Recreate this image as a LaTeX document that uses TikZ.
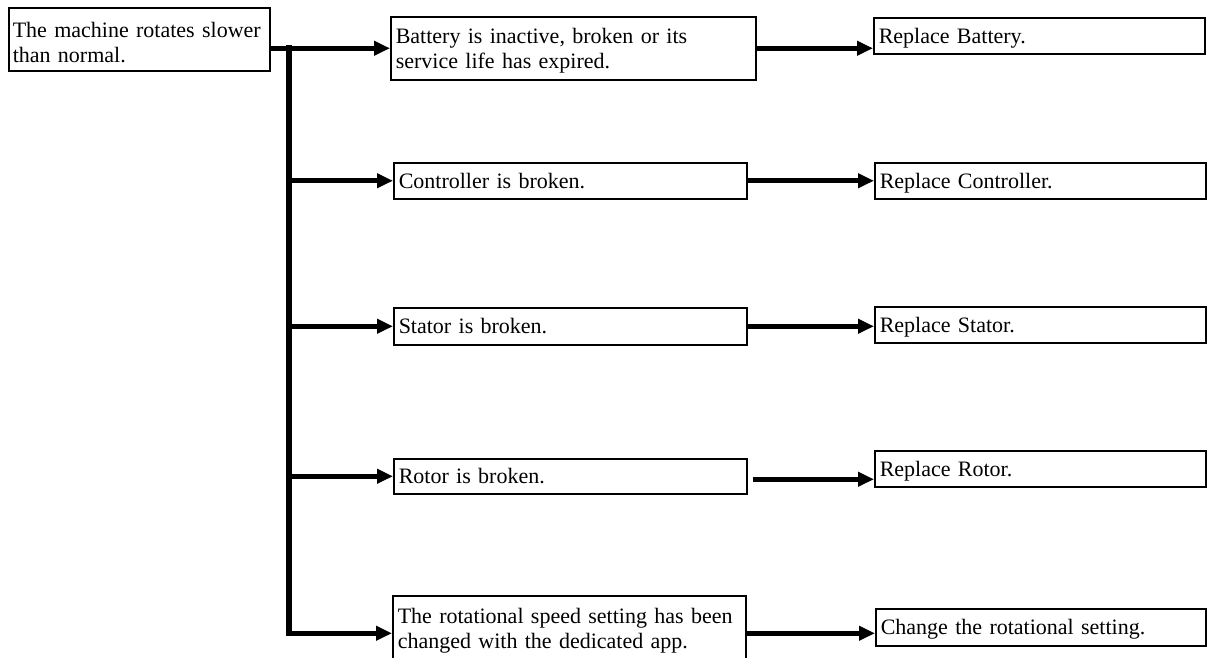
\documentclass[tikz,border=0pt]{standalone}
\usepackage{fontspec}
\setmainfont{Liberation Serif}
\usetikzlibrary{arrows.meta}
\newcommand{\boxfont}{\fontsize{22}{25}\selectfont}
\newcommand{\tallrow}{\rule{0pt}{21pt}}

\begin{document}
\begin{tikzpicture}[x=1pt,y=-1pt,
        box/.style={draw,line width=1.5pt,anchor=north west,align=left,
                    inner xsep=5pt,inner ysep=0pt,font=\boxfont},
        cause/.style={box,text width=343pt},
        fix/.style={box,text width=321pt,minimum height=36pt,text depth=0pt},
        feed/.style={line width=5pt,-{Triangle[length=16pt,width=14pt]}}
    ]
    \useasboundingbox (0,0) rectangle (1214,657);

    \node[box,inner xsep=4pt,text width=253pt,minimum height=63pt] (p) at (8,7) {The machine rotates slower\tallrow\\than normal.};

    \node[box,text width=355pt,minimum height=63pt] (c1) at (390,16) {Battery is inactive, broken or its\tallrow\\service life has expired.};
    \node[cause,minimum height=36pt,text depth=0pt] (c2) at (393,162) {Controller is broken.};
    \node[cause,minimum height=37pt,text depth=0pt] (c3) at (393,307) {Stator is broken.};
    \node[cause,minimum height=35pt,text depth=0pt] (c4) at (393,458) {Rotor is broken.};
    \node[cause,minimum height=65pt] (c5) at (392,595) {The rotational speed setting has been\tallrow\\changed with the dedicated app.};

    \node[fix] (r1) at (873,17)  {Replace Battery.};
    \node[fix] (r2) at (874,162) {Replace Controller.};
    \node[fix] (r3) at (874,306) {Replace Stator.};
    \node[fix] (r4) at (874,450) {Replace Rotor.};
    \node[fix,text width=320pt,minimum height=37pt] (r5) at (875,608) {Change the rotational setting.};

    % trunk and branches
    \coordinate (t) at (289,0);
    \coordinate (c4out) at ([xshift=5pt,yshift=-3pt]c4.east);
    \coordinate (c5in) at ([yshift=-5pt]c5.west);
    \draw[line width=6pt,line cap=rect] (t |- c1.west) -- (t |- c5in);
    \draw[feed] (p.east |- c1.west) -- (c1.west);
    \foreach \c in {c2,c3,c4}
        \draw[feed] (t |- \c.west) -- (\c.west);
    \draw[feed] (t |- c5in) -- (c5in);

    % remedies
    \draw[feed] (c1.east) -- (c1.east -| r1.west);
    \draw[feed] (c2.east) -- (c2.east -| r2.west);
    \draw[feed] (c3.east) -- (c3.east -| r3.west);
    \draw[feed] (c4out) -- (c4out -| r4.west);
    \draw[feed] (c5.east |- c5in) -- (c5in -| r5.west);
\end{tikzpicture}
\end{document}
